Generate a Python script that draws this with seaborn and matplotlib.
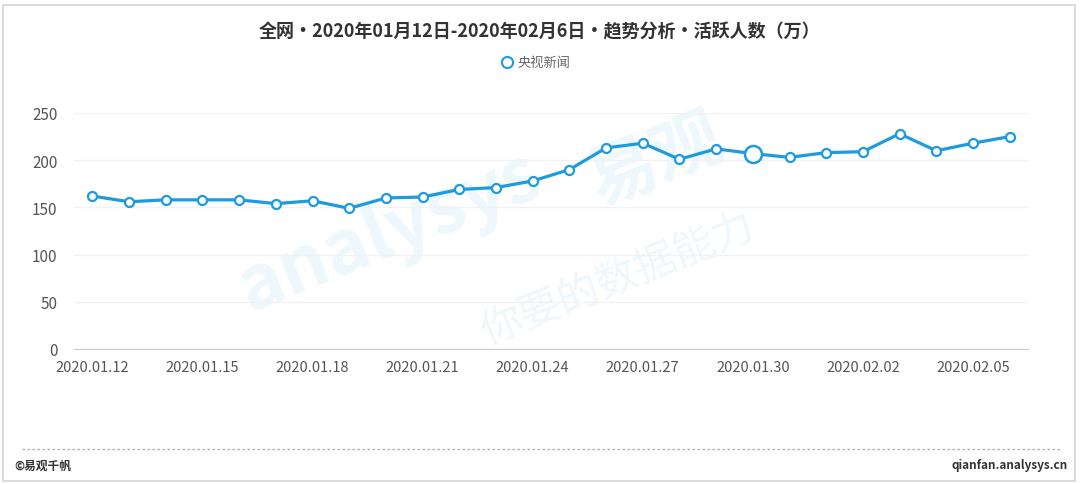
import matplotlib
matplotlib.use("Agg")
import matplotlib.pyplot as plt
import seaborn as sns
import pandas as pd
from matplotlib.lines import Line2D
from matplotlib.patches import Rectangle

# data
dates = ['2020.01.12', '2020.01.13', '2020.01.14', '2020.01.15', '2020.01.16',
         '2020.01.17', '2020.01.18', '2020.01.19', '2020.01.20', '2020.01.21',
         '2020.01.22', '2020.01.23', '2020.01.24', '2020.01.25', '2020.01.26',
         '2020.01.27', '2020.01.28', '2020.01.29', '2020.01.30', '2020.01.31',
         '2020.02.01', '2020.02.02', '2020.02.03', '2020.02.04', '2020.02.05',
         '2020.02.06']
active_users = [162, 156, 158, 158, 158, 154, 157, 149, 160, 161,
                169, 171, 178, 190, 213, 218, 201, 212, 207, 203,
                208, 209, 228, 210, 218, 225]
series_name = '央视新闻'
highlight_date = '2020.01.30'
y_ticks = [0, 50, 100, 150, 200, 250]

BLUE = '#1E9BDD'

df = pd.DataFrame({'date': dates, 'value': active_users})
df['idx'] = range(len(df))

sns.set_style('white')
plt.rcParams['font.family'] = ['Noto Sans CJK SC', 'DejaVu Sans']

fig = plt.figure(figsize=(10.8, 4.85), dpi=100)
ax = fig.add_axes([74 / 1080, 1 - 350 / 485, (1028 - 74) / 1080, (350 - 114) / 485])
ax.patch.set_alpha(0)

# faint watermark
ax.text(0.33, 0.50, 'analysys', transform=ax.transAxes, fontsize=54, fontweight='bold',
        color='#edf7fc', rotation=22, ha='center', va='center', zorder=0, style='italic')
ax.text(0.61, 0.80, '易观', transform=ax.transAxes, fontsize=50, fontweight='bold',
        color='#edf7fc', rotation=22, ha='center', va='center', zorder=0)
ax.text(0.57, 0.30, '你要的数据能力', transform=ax.transAxes, fontsize=30,
        color='#eff7fc', rotation=22, ha='center', va='center', zorder=0)

sns.lineplot(data=df, x='idx', y='value', ax=ax, color=BLUE, linewidth=2.3,
             marker='o', markersize=6.5, markerfacecolor='white',
             markeredgecolor=BLUE, markeredgewidth=1.6, zorder=3)
hl = df[df['date'] == highlight_date]
sns.scatterplot(data=hl, x='idx', y='value', ax=ax, s=150, color='white',
                edgecolor=BLUE, linewidth=1.8, zorder=4)

ax.set_xlim(-0.5, len(dates) - 0.5)
ax.set_ylim(0, 250)
ax.set_yticks(y_ticks)
ax.set_yticklabels([str(t) for t in y_ticks], fontsize=11, color='#555555')
ax.set_xticks(df['idx'][::3])
ax.set_xticklabels(df['date'][::3], fontsize=10.5, color='#555555')
ax.tick_params(axis='x', length=0, pad=8)
ax.tick_params(axis='y', length=0, pad=12)
# boundary tick marks on the category axis
ax.set_xticks([i - 0.5 for i in df['idx'][::3]], minor=True)
ax.tick_params(axis='x', which='minor', length=5, color='#cccccc', width=1)

ax.grid(axis='y', color='#f2f2f2', linewidth=1)
for s in ['top', 'right', 'left']:
    ax.spines[s].set_visible(False)
ax.spines['bottom'].set_color('#cccccc')
ax.set_xlabel('')
ax.set_ylabel('')

# title and legend
fig.text(0.5, 1 - 32 / 485, '全网•2020年01月12日-2020年02月6日•趋势分析•活跃人数（万）',
         ha='center', va='center', fontsize=13, fontweight='bold', color='#333333')
fig.lines.append(Line2D([507 / 1080], [1 - 63 / 485], marker='o', markersize=8,
                        markerfacecolor='white', markeredgecolor=BLUE,
                        markeredgewidth=1.5, transform=fig.transFigure))
fig.text(517 / 1080, 1 - 63 / 485, series_name, ha='left', va='center',
         fontsize=9.5, color='#666666')

# footer
fig.lines.append(Line2D([22 / 1080, 1060 / 1080], [1 - 450 / 485] * 2,
                        color='#aaaaaa', linestyle=(0, (2, 2)), linewidth=0.9,
                        transform=fig.transFigure))
fig.text(14 / 1080, 1 - 466 / 485, '©易观千帆', ha='left', va='center',
         fontsize=8.5, fontweight='bold', color='#333333')
fig.text(1068 / 1080, 1 - 466 / 485, 'qianfan.analysys.cn', ha='right', va='center',
         fontsize=8.5, fontweight='bold', color='#333333')

# outer frame
fig.patches.append(Rectangle((3 / 1080, 3 / 485), 1072 / 1080, 476 / 485,
                             fill=False, edgecolor='#d5d5d5', linewidth=1.2,
                             transform=fig.transFigure))

fig.savefig('out.png', dpi=100)
